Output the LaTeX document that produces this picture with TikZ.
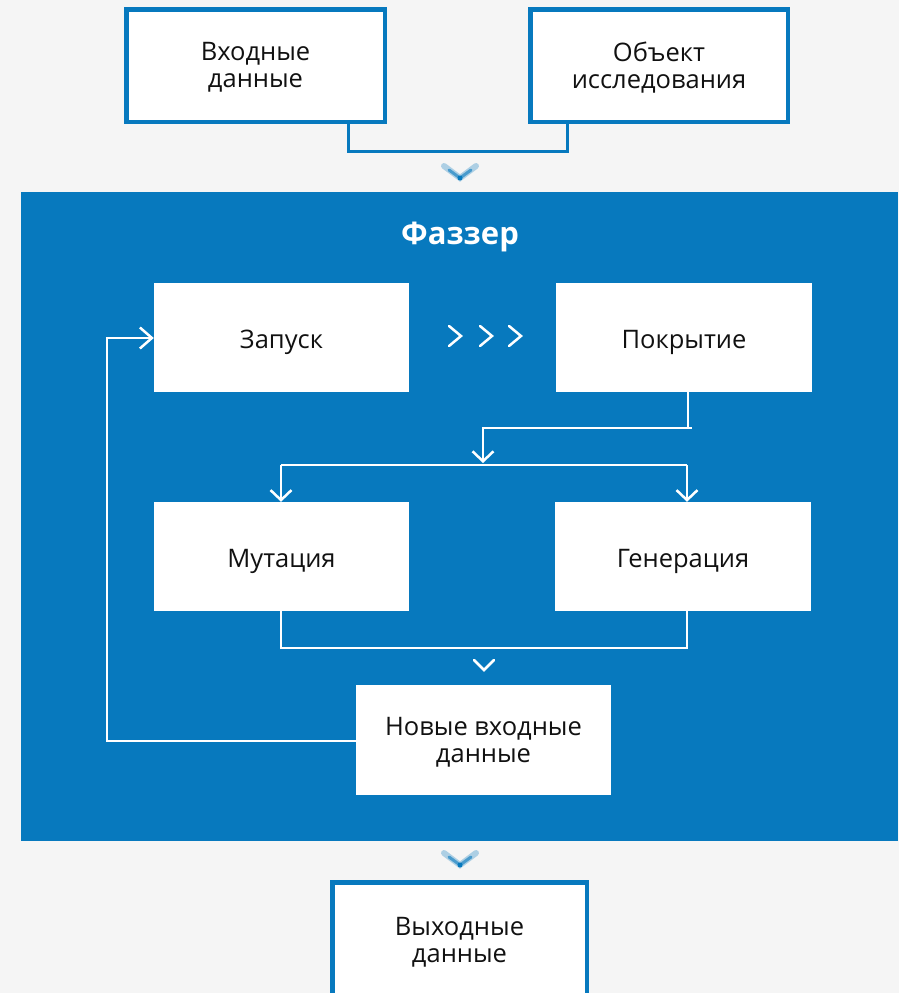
\documentclass[tikz,border=0pt]{standalone}
\usepackage{fontspec}
\setmainfont{Open Sans}
\usetikzlibrary{arrows.meta,calc}
\definecolor{bg}{HTML}{F5F5F5}
\definecolor{fzblue}{RGB}{7,121,190}
\definecolor{txt}{HTML}{111111}
\tikzset{
  outbox/.style={draw=fzblue, line width=4.5pt, fill=white, inner sep=0pt, align=center,
    font=\fontsize{25.5}{27}\selectfont, text=txt},
  inbox/.style={fill=white, inner sep=0pt, align=center, minimum width=255pt, minimum height=109pt,
    font=\fontsize{25.5}{27}\selectfont, text=txt},
  lbl/.style={font=\fontsize{25.5}{27}\selectfont, text=txt, align=center, inner sep=0pt},
  wline/.style={draw=white, line width=2.5pt},
  warrow/.style={wline, -{Straight Barb[length=10pt,width=21pt,line width=2.5pt]}},
  bline/.style={draw=fzblue, line width=3pt},
  chev/.style={draw=white, line width=2.5pt, line cap=round, line join=miter},
}
\begin{document}
\begin{tikzpicture}[x=1pt,y=-1pt]
\useasboundingbox (0,0) rectangle (899,993);
\fill[bg] (0,0) rectangle (899,993);
% outer boxes
\node[outbox, minimum width=258.5pt, minimum height=112.5pt] (in) at (255.5,65.5) {};
\node[lbl] (inl) at (255.5,67) {Входные\\данные};
\node[outbox, minimum width=257.5pt, minimum height=112.5pt] (obj) at (659,65.5) {};
\node[lbl] (objl) at (659,67.5) {Объект\\исследования};
% connector top
\coordinate (c1) at (348,151);
\coordinate (c2) at (567,151);
\draw[bline] (in.south -| c1) -- (c1) -- (c2) -- (obj.south -| c2);
% blurred chevron top
\draw[fzblue, opacity=0.3, line width=6pt, line cap=round] (444,166) -- (460,178) -- (476,166);
\draw[fzblue, opacity=0.6, line width=3pt, line cap=round] (449,170) -- (460,178) -- (471,170);
\fill[fzblue] (460,178) circle (2.5pt);
% panel
\fill[fzblue] (21,192) rectangle (898,841);
\node[font=\bfseries\fontsize{31}{34}\selectfont, text=white] (title) at (460,237) {Фаззер};
% inner boxes
\node[inbox] (run) at (281.5,337.5) {};
\node[lbl] (runl) at (281.5,342) {Запуск};
\node[inbox, minimum width=256pt] (cov) at (684,337.5) {};
\node[lbl] (covl) at (684,342) {Покрытие};
\node[inbox] (mut) at (281.5,556.5) {};
\node[lbl] (mutl) at (281.5,561) {Мутация};
\node[inbox, minimum width=256pt] (gen) at (683,556.5) {};
\node[lbl] (genl) at (683,561) {Генерация};
\node[inbox, minimum height=110pt] (new) at (483.5,740) {};
\node[lbl] (newl) at (483.5,742) {Новые входные\\данные};
% >>> chevrons
\foreach \x in {449,480,509}{
  \draw[chev] (\x,326) -- (\x+12,336) -- (\x,346);
}
% coverage to split
\coordinate (s1) at (688,428);
\coordinate (s2) at (483,428);
\coordinate (s3) at (483,463);
\draw[wline] (cov.south -| s1) -- (s1) -- ($(s1)+(4,0)$);
\draw[warrow] (s1) -- (s2) -- (s3);
\coordinate (h1) at (281,465);
\coordinate (h2) at (687,465);
\draw[wline] (h1) -- (h2);
\draw[warrow] (h1) -- (mut.north -| h1);
\draw[warrow] (h2) -- (gen.north -| h2);
% merge
\coordinate (m1) at (281,648);
\coordinate (m2) at (687,648);
\draw[wline] (mut.south -| m1) -- (m1) -- (m2) -- (gen.south -| m2);
\draw[chev] (474,660) -- (484,670) -- (494,660);
% feedback
\coordinate (f1) at (107,741);
\coordinate (f2) at (107,338);
\draw[wline] (new.west |- f1) -- (f1) -- (f2);
\draw[wline, -{Straight Barb[length=12pt,width=21pt,line width=2.5pt]}] ($(f2)+(-1.25,0)$) -- (run.west |- f2);
% bottom chevron
\draw[fzblue, opacity=0.3, line width=6pt, line cap=round] (444,853) -- (460,865) -- (476,853);
\draw[fzblue, opacity=0.6, line width=3pt, line cap=round] (449,857) -- (460,865) -- (471,857);
\fill[fzblue] (460,865) circle (2.5pt);
% output box
\node[outbox, minimum width=254.5pt, minimum height=115.5pt] (out) at (459.5,940) {};
\node[lbl] (outl) at (459.5,942) {Выходные\\данные};
\end{tikzpicture}
\end{document}
